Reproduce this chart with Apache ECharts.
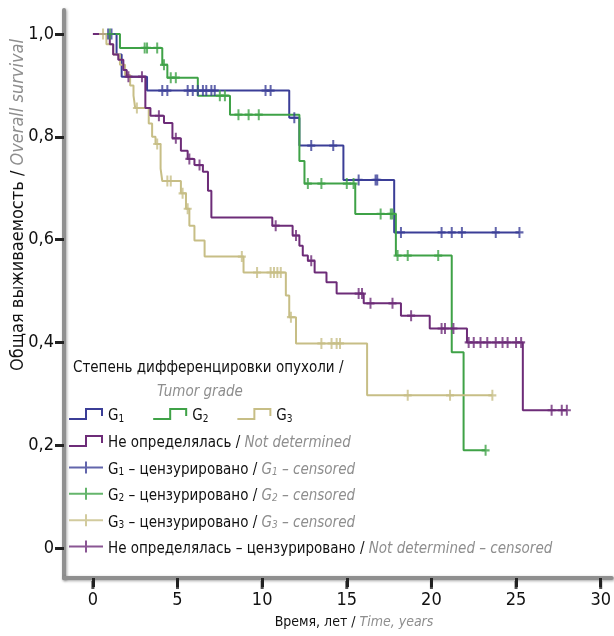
<!DOCTYPE html>
<html>
<head>
<meta charset="utf-8">
<script src="https://cdn.jsdelivr.net/npm/echarts@6/dist/echarts.min.js"></script>
<style>
  html, body { margin: 0; padding: 0; background: #fff; }
  #chart { width: 614px; height: 636px; }
</style>
</head>
<body>
<div id="chart"></div>
<script>
// кривые Каплана-Мейера: время (годы) и доля выживших после каждого шага
const g1Times = [0.5, 1.4, 1.7, 3.2, 11.6, 12.2, 14.8, 17.8, 25.2]
const g1Surv = [1.0, 0.96, 0.917, 0.89, 0.837, 0.783, 0.716, 0.614, 0.614]
const g1Censored = [0.9, 1.1, 4.1, 4.4, 5.6, 5.9, 6.2, 6.5, 6.7, 7.0, 7.2, 10.2, 10.5, 11.9, 12.9, 14.2, 15.7, 16.7, 16.8, 18.2, 20.6, 21.2, 21.8, 23.8, 25.2]

const g2Times = [0.8, 1.6, 4.1, 4.4, 6.2, 8.1, 12.2, 12.5, 15.5, 17.9, 21.2, 21.9, 23.2]
const g2Surv = [1.0, 0.973, 0.94, 0.915, 0.88, 0.843, 0.753, 0.709, 0.65, 0.569, 0.381, 0.19, 0.19]
const g2Censored = [1.0, 3.06, 3.2, 3.8, 4.2, 4.6, 4.9, 7.5, 7.8, 8.6, 9.2, 9.8, 12.7, 13.5, 15.0, 15.4, 17.0, 17.6, 17.7, 18.0, 18.6, 20.4, 23.2]

const g3Times = [0.5, 0.8, 1.2, 1.6, 1.9, 2.2, 2.4, 2.5, 3.3, 3.5, 3.7, 4.0, 4.1, 5.2, 5.5, 5.7, 6.0, 6.6, 8.9, 11.4, 11.6, 12.0, 16.2, 23.6]
const g3Surv = [1.0, 0.98, 0.96, 0.94, 0.92, 0.9, 0.88, 0.856, 0.826, 0.8, 0.786, 0.738, 0.714, 0.69, 0.66, 0.627, 0.598, 0.567, 0.536, 0.491, 0.449, 0.398, 0.297, 0.297]
const g3Censored = [0.6, 2.6, 3.8, 4.4, 4.6, 5.3, 5.6, 8.8, 9.7, 10.5, 10.7, 10.9, 11.1, 11.7, 13.5, 14.1, 14.4, 14.6, 18.6, 21.1, 23.6]

const ndTimes = [0, 1.0, 1.2, 1.5, 1.8, 2.0, 3.1, 3.4, 4.2, 4.7, 5.2, 5.6, 6.0, 6.5, 6.8, 7.0, 10.6, 11.8, 12.2, 12.4, 12.7, 13.1, 13.8, 14.4, 16.0, 18.2, 19.9, 22.1, 25.4, 28.0]
const ndSurv = [1.0, 0.98, 0.96, 0.95, 0.93, 0.917, 0.856, 0.841, 0.827, 0.797, 0.773, 0.757, 0.745, 0.732, 0.695, 0.643, 0.627, 0.608, 0.588, 0.569, 0.559, 0.536, 0.517, 0.495, 0.476, 0.452, 0.427, 0.4, 0.268, 0.268]
const ndCensored = [2.1, 2.9, 3.9, 4.9, 5.7, 6.3, 10.8, 12.0, 12.9, 15.7, 15.9, 16.4, 17.7, 18.8, 20.6, 20.8, 21.3, 22.2, 22.5, 22.9, 23.3, 23.8, 24.2, 24.5, 25.0, 25.3, 27.1, 27.7, 28.0]

// подписи осей
const xTicks = [0, 5, 10, 15, 20, 25, 30]
const yTicks = [0, 0.2, 0.4, 0.6, 0.8, 1.0]

const X_MIN = -1.706
const X_MAX = 30.65
const Y_MIN = -0.0584
const Y_MAX = 1.0467

const FONT = "'DejaVu Sans Condensed', 'Liberation Sans Narrow', sans-serif"
const colors = { g1: '#3b3e97', g2: '#3fa247', g3: '#c7be86', nd: '#6d2c78' }

// значение ступенчатой кривой в момент t
function survivalAt(times, surv, t) {
  let v = surv[0]
  for (let i = 0; i < times.length; i++) {
    if (times[i] <= t) v = surv[i]
  }
  return v
}

function stepSeries(name, times, surv, color) {
  return {
    name,
    type: 'line',
    step: 'end',
    showSymbol: false,
    data: times.map((t, i) => [t, surv[i]]),
    itemStyle: { color },
    lineStyle: { color, width: 2 },
    z: 3,
  }
}

const plusPath = 'path://M3,0h2v4h3v2h-3v4h-2v-4h-3v-2h3z'
function censorSeries(name, times, surv, marks, color) {
  return {
    name,
    type: 'scatter',
    symbol: plusPath,
    symbolSize: [8, 11],
    data: marks.map((t) => [t, survivalAt(times, surv, t)]),
    itemStyle: { color },
    z: 4,
  }
}

// значки легенды
const stepIcon = 'path://M0,10H16V0H34V8H32V2H18V12H0Z'
const plusIcon = 'path://M0,5H16V0H18V5H34V7H18V12H16V7H0Z'

const names = {
  g1: 'G1', g2: 'G2', g3: 'G3', nd: 'Не определялась',
  g1c: 'G1 цензурировано', g2c: 'G2 цензурировано', g3c: 'G3 цензурировано', ndc: 'Не определялась цензурировано',
}
const legendLabels = {
  [names.g1]: '{b|G}{s|1}',
  [names.g2]: '{b|G}{s|2}',
  [names.g3]: '{b|G}{s|3}',
  [names.nd]: '{b|Не определялась / }{i|Not determined}',
  [names.g1c]: '{b|G}{s|1}{b| – цензурировано / }{i|G}{si|1}{i| – censored}',
  [names.g2c]: '{b|G}{s|2}{b| – цензурировано / }{i|G}{si|2}{i| – censored}',
  [names.g3c]: '{b|G}{s|3}{b| – цензурировано / }{i|G}{si|3}{i| – censored}',
  [names.ndc]: '{b|Не определялась – цензурировано / }{i|Not determined – censored}',
}
const legendRich = {
  b: { fontFamily: FONT, fontSize: 15, color: '#111', lineHeight: 20, verticalAlign: 'bottom' },
  i: { fontFamily: FONT, fontSize: 15, color: '#8e8e8e', fontStyle: 'italic', lineHeight: 20, verticalAlign: 'bottom' },
  s: { fontFamily: FONT, fontSize: 10, color: '#111', lineHeight: 10, verticalAlign: 'bottom' },
  si: { fontFamily: FONT, fontSize: 10, color: '#8e8e8e', fontStyle: 'italic', lineHeight: 10, verticalAlign: 'bottom' },
}
const legendBase = {
  selectedMode: false,
  itemWidth: 34,
  itemHeight: 12,
  left: 64,
  formatter: (name) => legendLabels[name],
  textStyle: { rich: legendRich },
  itemStyle: { borderWidth: 0 },
}

const axisLineStyle = { color: '#8f8f8f', width: 4, shadowColor: 'rgba(0,0,0,0.35)', shadowBlur: 3, shadowOffsetX: 1, shadowOffsetY: 1 }
const tickStyle = { color: '#222', width: 3 }

const chart = echarts.init(document.getElementById('chart'))
const option = {
  animation: false,
  textStyle: { fontFamily: FONT },
  grid: { left: 64, right: 0, top: 10, bottom: 58 },
  title: [
    {
      text: 'Степень дифференцировки опухоли /',
      left: 68,
      top: 356,
      textStyle: { fontFamily: FONT, fontSize: 15, fontWeight: 'normal', color: '#111' },
    },
    {
      text: 'Tumor grade',
      left: 152,
      top: 380,
      textStyle: { fontFamily: FONT, fontSize: 15, fontWeight: 'normal', fontStyle: 'italic', color: '#8e8e8e' },
    },
  ],
  legend: [
    Object.assign({}, legendBase, {
      top: 403,
      orient: 'horizontal',
      itemGap: 29,
      data: [names.g1, names.g2, names.g3].map((name) => ({ name, icon: stepIcon })),
    }),
    Object.assign({}, legendBase, {
      top: 430,
      orient: 'vertical',
      itemGap: 10.4,
      data: [
        { name: names.nd, icon: stepIcon },
        { name: names.g1c, icon: plusIcon },
        { name: names.g2c, icon: plusIcon },
        { name: names.g3c, icon: plusIcon },
        { name: names.ndc, icon: plusIcon },
      ],
    }),
  ],
  xAxis: {
    type: 'value',
    position: 'bottom',
    min: X_MIN,
    max: X_MAX,
    splitLine: { show: false },
    axisLine: { onZero: false, lineStyle: axisLineStyle },
    axisTick: { show: true, customValues: xTicks, length: 9, lineStyle: tickStyle },
    axisLabel: { customValues: xTicks, margin: 13, fontSize: 18, color: '#111', fontFamily: FONT },
    z: 5,
  },
  yAxis: {
    type: 'value',
    min: Y_MIN,
    max: Y_MAX,
    splitLine: { show: false },
    axisLine: { onZero: false, lineStyle: axisLineStyle },
    axisTick: { show: true, customValues: yTicks, length: 9, lineStyle: tickStyle },
    axisLabel: {
      customValues: yTicks,
      margin: 10,
      fontSize: 18,
      color: '#111',
      fontFamily: FONT,
      formatter: (v) => (v === 0 ? '0' : v.toFixed(1).replace('.', ',')),
    },
    z: 5,
  },
  graphic: [
    {
      type: 'text',
      x: 18,
      y: 205,
      rotation: Math.PI / 2,
      style: {
        text: '{b|Общая выживаемость / }{i|Overall survival}',
        align: 'center',
        verticalAlign: 'middle',
        rich: {
          b: { fontFamily: FONT, fontSize: 18, fill: '#111' },
          i: { fontFamily: FONT, fontSize: 18, fill: '#8e8e8e', fontStyle: 'italic' },
        },
      },
    },
    {
      type: 'text',
      x: 354,
      y: 622,
      style: {
        text: '{b|Время, лет / }{i|Time, years}',
        align: 'center',
        verticalAlign: 'middle',
        rich: {
          b: { fontFamily: FONT, fontSize: 14, fill: '#111' },
          i: { fontFamily: FONT, fontSize: 14, fill: '#8e8e8e', fontStyle: 'italic' },
        },
      },
    },
  ],
  series: [
    stepSeries(names.g1, g1Times, g1Surv, colors.g1),
    stepSeries(names.g2, g2Times, g2Surv, colors.g2),
    stepSeries(names.g3, g3Times, g3Surv, colors.g3),
    stepSeries(names.nd, ndTimes, ndSurv, colors.nd),
    censorSeries(names.g1c, g1Times, g1Surv, g1Censored, colors.g1),
    censorSeries(names.g2c, g2Times, g2Surv, g2Censored, colors.g2),
    censorSeries(names.g3c, g3Times, g3Surv, g3Censored, colors.g3),
    censorSeries(names.ndc, ndTimes, ndSurv, ndCensored, colors.nd),
    // засечки оси X под линией оси (на случай, если axisTick не виден)
    {
      type: 'scatter',
      silent: true,
      clip: false,
      symbol: 'rect',
      symbolSize: [3, 8],
      symbolOffset: [0, 7],
      itemStyle: { color: '#222' },
      data: xTicks.map((v) => [v, Y_MIN]),
      z: 6,
    },
  ],
}
chart.setOption(option)
</script>
</body>
</html>
